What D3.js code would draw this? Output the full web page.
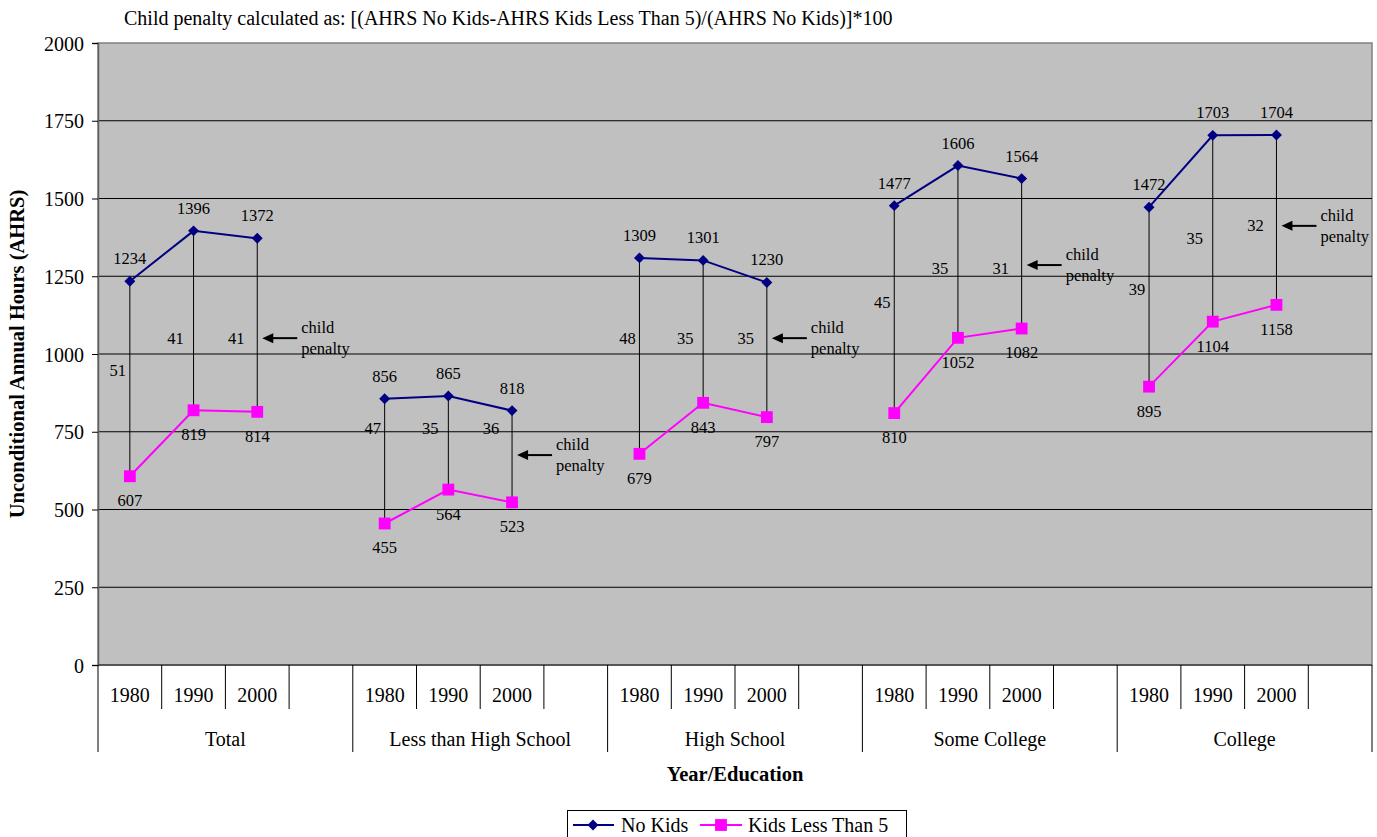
<!DOCTYPE html>
<html><head><meta charset="utf-8">
<script src="https://cdn.jsdelivr.net/npm/d3@7"></script>
<style>body{margin:0;background:#fff}svg{display:block}svg text{font-family:"Liberation Serif","Times New Roman",serif !important;fill:#000}</style>
</head><body><svg id="c" width="1377" height="837" font-family="Liberation Serif"></svg>
<script>
const groups = ["Total","Less than High School","High School","Some College","College"];
const years = ["1980","1990","2000"];
const noKids = [[1234,1396,1372],[856,865,818],[1309,1301,1230],[1477,1606,1564],[1472,1703,1704]];
const kidsLt5 = [[607,819,814],[455,564,523],[679,843,797],[810,1052,1082],[895,1104,1158]];
const penalty = [[51,41,41],[47,35,36],[48,35,35],[45,35,31],[39,35,32]];
const penaltyLabelAt = [[948,1051,1051],[762,762,762],[1051,1051,1051],[1167,1277,1277],[1209,1373,1415]];
const arrowAt = [1051,675,1051,1286,1412];
const yTicks = [0,250,500,750,1000,1250,1500,1750,2000];
const title = "Child penalty calculated as: [(AHRS No Kids-AHRS Kids Less Than 5)/(AHRS No Kids)]*100";

const FF = "'Liberation Serif','Times New Roman',serif";
const svg = d3.select("#c");
const L=98,R=1372,T=43,B=665;
const slots = [];
groups.forEach((g,gi)=>{years.forEach((y,yi)=>slots.push(gi+"-"+yi)); slots.push(gi+"-b");});
const x = d3.scaleBand().domain(slots).range([L,R]);
const y = d3.scaleLinear().domain([0,2000]).range([B,T]);
const cx = (gi,yi)=>x(gi+"-"+yi)+x.bandwidth()/2;
function txt(sel,size){ return sel.append("text").attr("font-family",FF).style("font-family",FF).style("font-size",size+"px"); }

svg.append("rect").attr("x",L).attr("y",T).attr("width",R-L).attr("height",B-T).attr("fill","#C0C0C0").attr("stroke","#808080").attr("stroke-width",1.5);
svg.append("g").selectAll("line").data(yTicks.filter(d=>d>0&&d<2000)).join("line")
  .attr("x1",L).attr("x2",R).attr("y1",d=>y(d)).attr("y2",d=>y(d)).attr("stroke","#000").attr("stroke-width",1);

// y axis
const ya = svg.append("g").attr("transform",`translate(${L},0)`).call(d3.axisLeft(y).tickValues(yTicks).tickFormat(d3.format("d")).tickSize(6).tickPadding(8));
ya.attr("font-family",FF).attr("font-size",20);
ya.select(".domain").attr("stroke","#606060").attr("stroke-width",1.5);
ya.selectAll(".tick line").attr("stroke","#000");
ya.selectAll(".tick text").style("font-family",FF).style("font-size","20px").attr("dy","0.35em");
svg.append("line").attr("x1",L).attr("x2",R).attr("y1",B).attr("y2",B).attr("stroke","#404040").attr("stroke-width",1.5);

// x category axis
const xg = svg.append("g");
slots.forEach((s,i)=>{
  const x0 = x(s);
  const long = (i%4===0);
  xg.append("line").attr("x1",x0).attr("x2",x0).attr("y1",B).attr("y2",long?752:709).attr("stroke","#000");
});
xg.append("line").attr("x1",R).attr("x2",R).attr("y1",B).attr("y2",752).attr("stroke","#000");
groups.forEach((g,gi)=>{
  years.forEach((yr,yi)=>{
    txt(xg,20).attr("x",cx(gi,yi)).attr("y",702).attr("text-anchor","middle").text(yr);
  });
  const gx0 = x(gi+"-0"), gx1 = x(gi+"-b")+x.bandwidth();
  txt(xg,20).attr("x",(gx0+gx1)/2).attr("y",746).attr("text-anchor","middle").text(g);
});

// drop lines
groups.forEach((g,gi)=>years.forEach((yr,yi)=>{
  svg.append("line").attr("x1",cx(gi,yi)).attr("x2",cx(gi,yi)).attr("y1",y(noKids[gi][yi])).attr("y2",y(kidsLt5[gi][yi])).attr("stroke","#000").attr("stroke-width",1);
}));

const line = d3.line().x(d=>d[0]).y(d=>d[1]);
function series(data,color,shape){
  groups.forEach((g,gi)=>{
    const pts = data[gi].map((v,yi)=>[cx(gi,yi),y(v)]);
    svg.append("path").attr("d",line(pts)).attr("fill","none").attr("stroke",color).attr("stroke-width",2);
    svg.selectAll(null).data(pts).join("path").attr("transform",d=>`translate(${d[0]},${d[1]})`)
      .attr("d",shape).attr("fill",color);
  });
}
const diamond = d3.symbol().type(d3.symbolDiamond2).size(76)();
const square = d3.symbol().type(d3.symbolSquare).size(140)();
series(noKids,"#000080",diamond);
series(kidsLt5,"#FF00FF",square);

// value labels
groups.forEach((g,gi)=>years.forEach((yr,yi)=>{
  txt(svg,16.5).attr("x",cx(gi,yi)).attr("y",y(noKids[gi][yi])-17).attr("text-anchor","middle").text(noKids[gi][yi]);
  txt(svg,16.5).attr("x",cx(gi,yi)).attr("y",y(kidsLt5[gi][yi])+30).attr("text-anchor","middle").text(kidsLt5[gi][yi]);
  const off = [-12,-18,-21][yi];
  txt(svg,16.5).attr("x",cx(gi,yi)+off).attr("y",y(penaltyLabelAt[gi][yi])+6).attr("text-anchor","middle").text(penalty[gi][yi]);
}));

// child penalty arrows
groups.forEach((g,gi)=>{
  const lx = cx(gi,2), ay = y(arrowAt[gi]);
  svg.append("line").attr("x1",lx+40).attr("x2",lx+14).attr("y1",ay).attr("y2",ay).attr("stroke","#000").attr("stroke-width",2);
  svg.append("path").attr("d",`M${lx+5},${ay} L${lx+16},${ay-5} L${lx+16},${ay+5} Z`).attr("fill","#000");
  txt(svg,16.5).attr("x",lx+44).attr("y",ay-5).text("child");
  txt(svg,16.5).attr("x",lx+44).attr("y",ay+16).text("penalty");
});

// titles
txt(svg,20).attr("x",124).attr("y",25).text(title);
txt(svg,20.5).attr("transform",`translate(24,${(T+B)/2}) rotate(-90)`).attr("text-anchor","middle").attr("font-weight","bold").text("Unconditional Annual Hours (AHRS)");
txt(svg,20.5).attr("x",(L+R)/2).attr("y",781).attr("text-anchor","middle").attr("font-weight","bold").text("Year/Education");

// legend
const lg = svg.append("g");
lg.append("rect").attr("x",567.5).attr("y",810.5).attr("width",339).attr("height",40).attr("fill","#fff").attr("stroke","#000");
lg.append("line").attr("x1",573).attr("x2",614).attr("y1",825).attr("y2",825).attr("stroke","#000080").attr("stroke-width",2);
lg.append("path").attr("transform","translate(593,825)").attr("d",diamond).attr("fill","#000080");
txt(lg,20).attr("x",621).attr("y",832).text("No Kids");
lg.append("line").attr("x1",700).attr("x2",742).attr("y1",825).attr("y2",825).attr("stroke","#FF00FF").attr("stroke-width",2);
lg.append("path").attr("transform","translate(721,825)").attr("d",square).attr("fill","#FF00FF");
txt(lg,20).attr("x",748).attr("y",832).text("Kids Less Than 5");
</script></body></html>
